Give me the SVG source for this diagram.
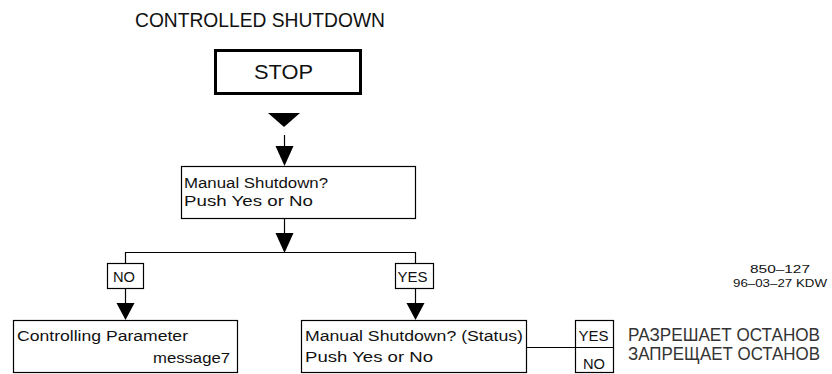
<svg xmlns="http://www.w3.org/2000/svg" width="832" height="374" viewBox="0 0 832 374">
<style>
.box{fill:#fff;stroke:#000;stroke-width:1.2}
.ln{fill:none;stroke:#000;stroke-width:1.2}
.ah{fill:#000}
text{font-family:"Liberation Sans",Arial,sans-serif;fill:#111}
.t{font-size:14px}
.s{font-size:11.5px}
.ru{font-size:17.5px;fill:#333}
</style>
<rect width="832" height="374" fill="#fff"/>
<text x="135" y="27" font-size="21" fill="#222" textLength="250" lengthAdjust="spacingAndGlyphs">CONTROLLED SHUTDOWN</text>
<g id="stop">
<rect x="215.5" y="50.5" width="145" height="43" fill="#fff" stroke="#000" stroke-width="3"/>
<text x="254" y="79" font-size="21" textLength="59" lengthAdjust="spacingAndGlyphs">STOP</text>
</g>
<g id="connectors">
<polygon class="ah" points="268,113 300,113 284,127"/>
<path class="ln" d="M284.5,135 V150"/>
<polygon class="ah" points="275.5,146 293.5,146 284.5,166"/>
<path class="ln" d="M284.5,219 V236"/>
<polygon class="ah" points="275.5,233 293.5,233 284.5,253"/>
<path class="ln" d="M125.5,263 V252.5 H415.5 V263"/>
<path class="ln" d="M125.5,289 V304"/>
<polygon class="ah" points="116.5,303 134.5,303 125.5,320"/>
<path class="ln" d="M415.5,289 V304"/>
<polygon class="ah" points="406.5,303 424.5,303 415.5,320"/>
<path class="ln" d="M527,347.5 H575"/>
</g>
<g id="q1">
<rect class="box" x="181.5" y="166.5" width="234" height="52"/>
<text class="t" x="184" y="188" textLength="144" lengthAdjust="spacingAndGlyphs">Manual Shutdown?</text>
<text class="t" x="184" y="206" textLength="129" lengthAdjust="spacingAndGlyphs">Push Yes or No</text>
</g>
<g id="no">
<rect class="box" x="107.5" y="263.5" width="36" height="25"/>
<text class="t" x="113" y="282" textLength="22" lengthAdjust="spacingAndGlyphs">NO</text>
</g>
<g id="yes">
<rect class="box" x="395.5" y="263.5" width="38" height="25"/>
<text class="t" x="397.5" y="282" textLength="30" lengthAdjust="spacingAndGlyphs">YES</text>
</g>
<g id="ctrl">
<rect class="box" x="13.5" y="320.5" width="224" height="52"/>
<text class="t" x="17" y="341" textLength="171" lengthAdjust="spacingAndGlyphs">Controlling Parameter</text>
<text class="t" x="153" y="363" textLength="77" lengthAdjust="spacingAndGlyphs">message7</text>
</g>
<g id="q2">
<rect class="box" x="301.5" y="320.5" width="225" height="52"/>
<text class="t" x="305" y="341" textLength="218" lengthAdjust="spacingAndGlyphs">Manual Shutdown? (Status)</text>
<text class="t" x="305" y="362" textLength="128" lengthAdjust="spacingAndGlyphs">Push Yes or No</text>
</g>
<g id="yesno">
<rect class="box" x="575.5" y="320.5" width="38" height="52"/>
<path class="ln" d="M575.5,347.5 H613.5"/>
<text class="t" x="578.5" y="341" textLength="30" lengthAdjust="spacingAndGlyphs">YES</text>
<text class="t" x="583" y="369" textLength="22" lengthAdjust="spacingAndGlyphs">NO</text>
</g>
<text class="ru" x="628" y="341" textLength="192" lengthAdjust="spacingAndGlyphs">РАЗРЕШАЕТ ОСТАНОВ</text>
<text class="ru" x="628" y="360" textLength="192" lengthAdjust="spacingAndGlyphs">ЗАПРЕЩАЕТ ОСТАНОВ</text>
<text class="s" x="750" y="273" textLength="60" lengthAdjust="spacingAndGlyphs">850–127</text>
<text class="s" x="733" y="287" textLength="94" lengthAdjust="spacingAndGlyphs">96–03–27 KDW</text>
</svg>
